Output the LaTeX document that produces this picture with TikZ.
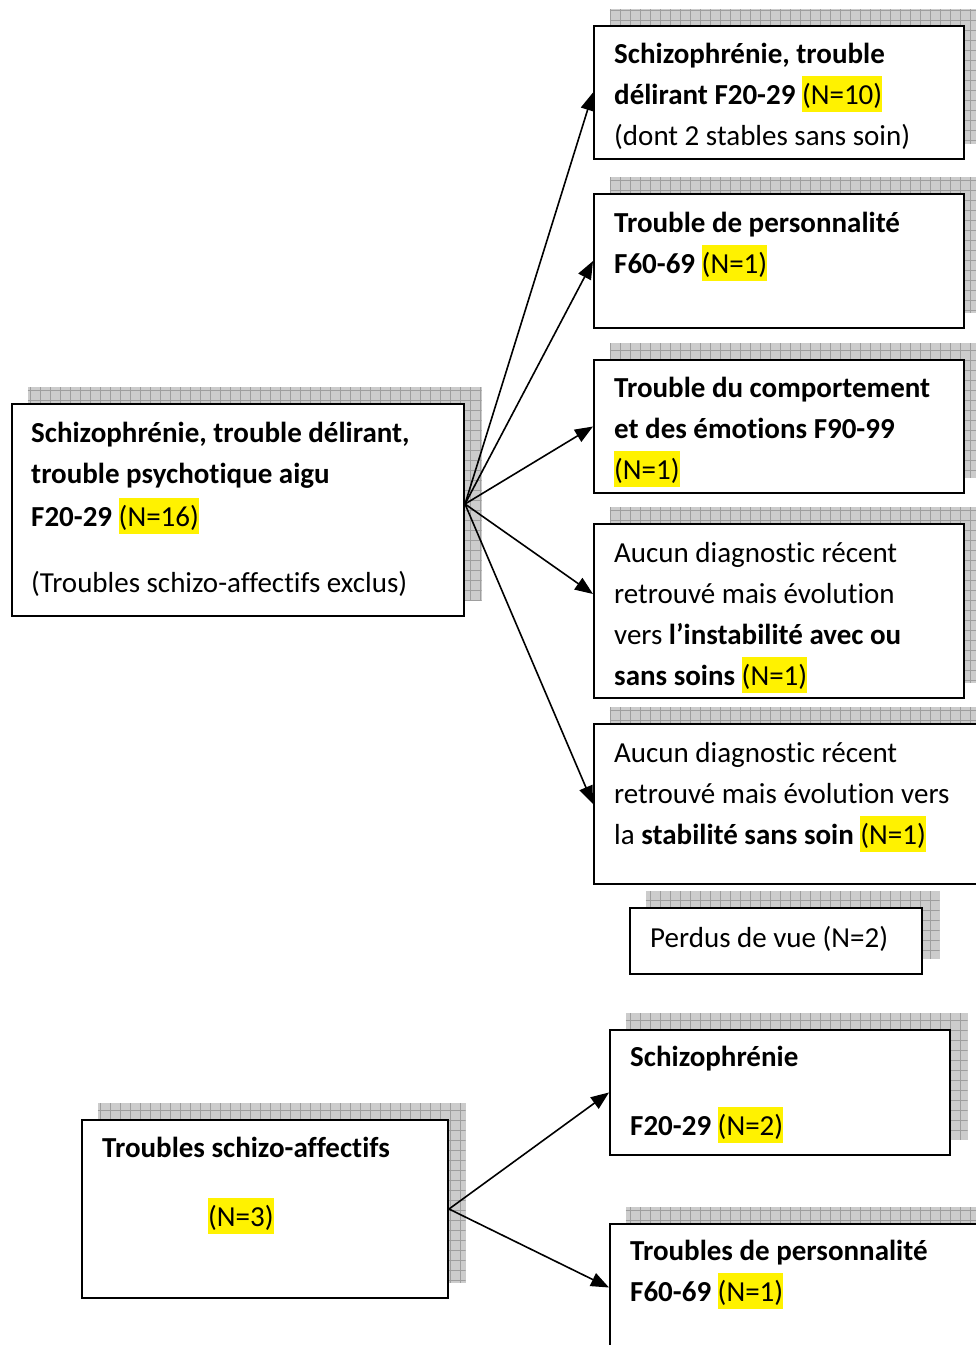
\documentclass[tikz,border=0pt]{standalone}
\usepackage{fontspec}
\setmainfont{Carlito}[Ligatures={NoCommon}]
\usetikzlibrary{arrows.meta,calc}
\pgfdeclarelayer{bg}
\pgfsetlayers{bg,main}
\tikzset{
  box/.style={draw=black, line width=2pt, fill=white, anchor=north west, inner sep=0pt},
  txt/.style={anchor=north west, inner sep=0pt, align=left, font=\fontsize{29pt}{41pt}\selectfont},
  arr/.style={line width=1.6pt, -{Triangle[length=18pt,width=14pt]}},
  shfill/.style={fill=black!20},
  shgrid/.style={draw=black!38, line width=0.7pt, step=10pt}
}
\newcommand\hlN[1]{{\setlength{\fboxsep}{0pt}\colorbox{yellow}{\rule[-8pt]{0pt}{36pt}#1}}}
\newcommand\shbox[1]{%
  \begin{scope}
    \path ($(#1.north west)+(16.5,-16.5)$) coordinate (#1-sa)
          ($(#1.south east)+(16.5,-16.5)$) coordinate (#1-sb);
    \fill[shfill] (#1-sa) rectangle (#1-sb);
    \clip (#1-sa) rectangle (#1-sb);
    \draw[shgrid] (#1-sa) grid (#1-sb);
  \end{scope}}
\begin{document}
\begin{tikzpicture}[x=1pt,y=-1pt]
\useasboundingbox (0,0) rectangle (976,1345);

% boxes
\node[box, minimum width=452pt, minimum height=212pt] (b1) at (11,403) {};
\node[box, minimum width=370pt, minimum height=133pt] (r1) at (593,25) {};
\node[box, minimum width=370pt, minimum height=134pt] (r2) at (593,193) {};
\node[box, minimum width=370pt, minimum height=133pt] (r3) at (593,359) {};
\node[box, minimum width=370pt, minimum height=174pt] (r4) at (593,523) {};
\node[box, minimum width=400pt, minimum height=160pt] (r5) at (593,723) {};
\node[box, minimum width=292pt, minimum height=66pt] (pv) at (629,907) {};
\node[box, minimum width=366pt, minimum height=178pt] (b2) at (81,1119) {};
\node[box, minimum width=340pt, minimum height=125pt] (s1) at (609,1029) {};
\node[box, minimum width=400pt, minimum height=127pt] (s2) at (609,1223) {};

% shadows
\begin{pgfonlayer}{bg}
  \shbox{b1}\shbox{r1}\shbox{r2}\shbox{r3}\shbox{r4}\shbox{r5}
  \shbox{pv}\shbox{b2}\shbox{s1}\shbox{s2}
\end{pgfonlayer}

% texts
\node[txt] (b1t) at (31,413.3) {\strut\textbf{Schizophrénie, trouble délirant,}\\
  \textbf{trouble psychotique aigu}\\[2pt]
  \textbf{F20-29} \hlN{(N=16)}\\[25pt]
  (Troubles schizo-affectifs exclus)};
\node[txt] (r1t) at (614,34.3) {\strut\textbf{Schizophrénie, trouble}\\
  \textbf{délirant F20-29} \hlN{(N=10)}\\
  (dont 2 stables sans soin)};
\node[txt] (r2t) at (614,203.3) {\strut\textbf{Trouble de personnalité}\\
  \textbf{F60-69} \hlN{(N=1)}};
\node[txt] (r3t) at (614,368.3) {\strut\textbf{Trouble du comportement}\\
  \textbf{et des émotions F90-99}\\
  \hlN{(N=1)}};
\node[txt] (r4t) at (614,533.3) {\strut Aucun diagnostic récent\\
  retrouvé mais évolution\\
  vers \textbf{l’instabilité avec ou}\\
  \textbf{sans soins} \hlN{(N=1)}};
\node[txt] (r5t) at (614,733.3) {\strut Aucun diagnostic récent\\
  retrouvé mais évolution vers\\
  la \textbf{stabilité sans soin} \hlN{(N=1)}};
\node[txt] (pvt) at (650,918.3) {\strut Perdus de vue (N=2)};
\node[txt] (b2t) at (102,1128.3) {\strut\textbf{Troubles schizo-affectifs}};
\node[txt] (b2n) at (208,1197.3) {\strut\hlN{(N=3)}};
\node[txt] (s1t) at (630,1037.3) {\strut\textbf{Schizophrénie}\\[28pt]
  \textbf{F20-29} \hlN{(N=2)}};
\node[txt] (s2t) at (630,1231.3) {\strut\textbf{Troubles de personnalité}\\
  \textbf{F60-69} \hlN{(N=1)}};

% connectors
\coordinate (b1o) at ([yshift=6pt]b1.east);
\draw[arr] (b1o) -- (r1.west);
\draw[arr] (b1o) -- (r2.west);
\draw[arr] (b1o) -- (r3.west);
\draw[arr] (b1o) -- ([yshift=17pt]r4.west);
\draw[arr] (b1o) -- (r5.west);
\draw[arr] (b2.east) -- (s1.west);
\draw[arr] (b2.east) -- (s2.west);
\end{tikzpicture}
\end{document}
